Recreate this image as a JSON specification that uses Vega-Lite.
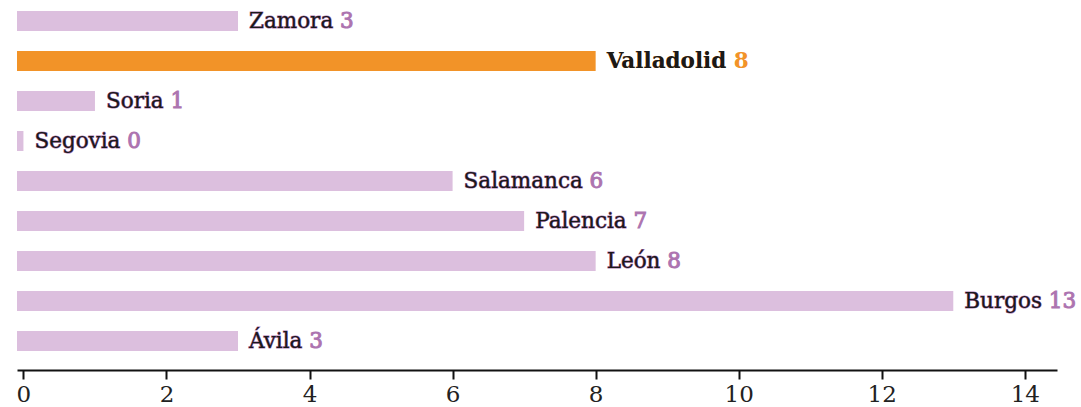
{
  "$schema": "https://vega.github.io/schema/vega-lite/v6.json",
  "width": 1040,
  "height": 360,
  "autosize": {"type": "none"},
  "padding": {"left": 17, "top": 1, "right": 24, "bottom": 46},
  "config": {"view": {"stroke": null}, "font": "DejaVu Serif"},
  "data": {
    "values": [
      {"name": "Zamora", "value": 3},
      {"name": "Valladolid", "value": 8},
      {"name": "Soria", "value": 1},
      {"name": "Segovia", "value": 0},
      {"name": "Salamanca", "value": 6},
      {"name": "Palencia", "value": 7},
      {"name": "León", "value": 8},
      {"name": "Burgos", "value": 13},
      {"name": "Ávila", "value": 3}
    ]
  },
  "encoding": {
    "y": {"field": "name", "type": "nominal", "sort": null, "axis": null,
          "scale": {"paddingInner": 0.5, "paddingOuter": 0.25}},
    "x": {"field": "value", "type": "quantitative",
          "scale": {"domain": [-0.09, 14.45], "nice": false, "zero": false},
          "axis": {"orient": "bottom", "offset": 9, "grid": false, "title": null,
                   "values": [0, 2, 4, 6, 8, 10, 12, 14],
                   "domainColor": "#111", "domainWidth": 2,
                   "tickColor": "#111", "tickWidth": 2, "tickSize": 9,
                   "labelFontSize": 23, "labelColor": "#222", "labelPadding": 4,
                   "labelFont": "DejaVu Serif"}}
  },
  "layer": [
    {
      "mark": {"type": "bar"},
      "encoding": {
        "x2": {"datum": -0.09},
        "color": {"condition": {"test": "datum.name === 'Valladolid'", "value": "#f29328"}, "value": "#dcbfde"}
      }
    },
    {
      "mark": {"type": "text", "align": "left", "baseline": "middle", "dx": 11, "dy": 1, "fontSize": 21.5,
               "text": {"expr": "datum.name + ' ' + datum.value"},
               "fill": {"expr": "datum.name === 'Valladolid' ? '#f29328' : '#ad74b0'"},
               "stroke": {"expr": "datum.name === 'Valladolid' ? '#f29328' : '#ad74b0'"},
               "strokeWidth": {"expr": "datum.name === 'Valladolid' ? 0 : 1"},
               "fontWeight": {"expr": "datum.name === 'Valladolid' ? 'bold' : 'normal'"}}
    },
    {
      "mark": {"type": "text", "align": "left", "baseline": "middle", "dx": 11, "dy": 1, "fontSize": 21.5,
               "fill": "#1a1a1a",
               "fontWeight": {"expr": "datum.name === 'Valladolid' ? 'bold' : 'normal'"}},
      "encoding": {"text": {"field": "name"}}
    }
  ]
}
